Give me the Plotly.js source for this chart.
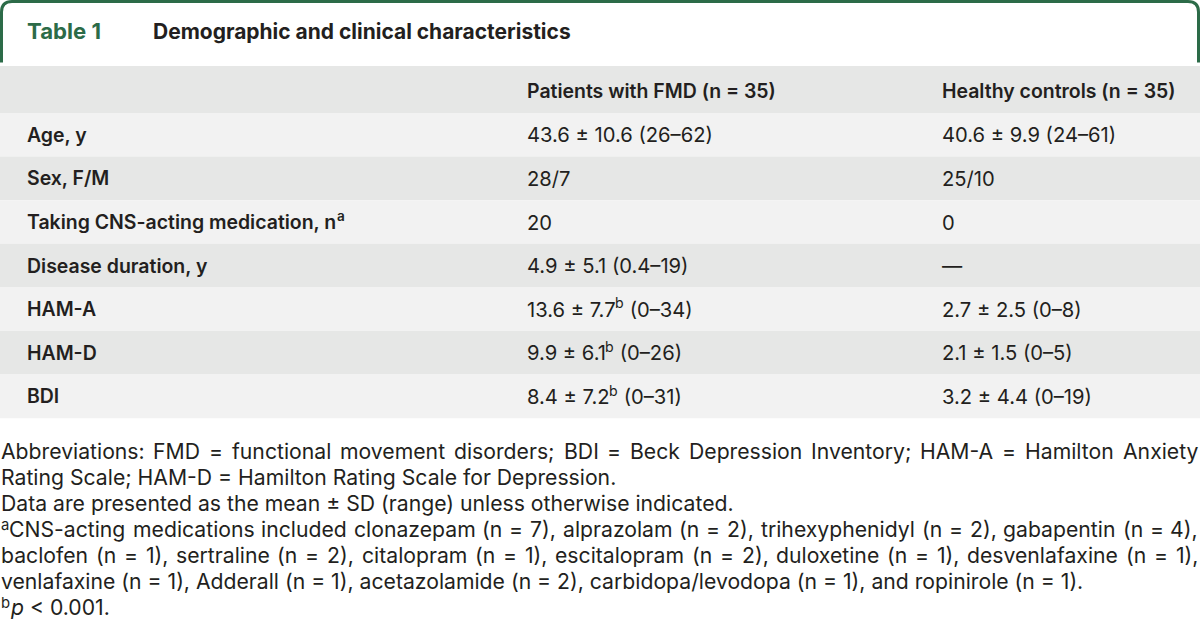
<!DOCTYPE html>
<html><head><meta charset="utf-8">
<script src="https://cdn.plot.ly/plotly-3.0.1.min.js"></script>
<style>html,body{margin:0;padding:0;background:#fff;}#chart{width:1200px;height:637px;}</style>
</head><body><div id="chart"></div>
<script>
// ---- data ----
const tableNumber = "Table 1";
const tableTitle = "Demographic and clinical characteristics";
const columnHeaders = ["Patients with FMD (n = 35)", "Healthy controls (n = 35)"];
const rowLabels = ["Age, y", "Sex, F/M", "Taking CNS-acting medication, n<sup>a</sup>", "Disease duration, y", "HAM-A", "HAM-D", "BDI"];
const fmdValues = ["43.6 ± 10.6 (26–62)", "28/7", "20", "4.9 ± 5.1 (0.4–19)", "13.6 ± 7.7<sup>b</sup> (0–34)", "9.9 ± 6.1<sup>b</sup> (0–26)", "8.4 ± 7.2<sup>b</sup> (0–31)"];
const controlValues = ["40.6 ± 9.9 (24–61)", "25/10", "0", "—", "2.7 ± 2.5 (0–8)", "2.1 ± 1.5 (0–5)", "3.2 ± 4.4 (0–19)"];
const footnoteParagraphs = [
  ["Abbreviations: FMD = functional movement disorders; BDI = Beck Depression Inventory; HAM-A = Hamilton Anxiety",
   "Rating Scale; HAM-D = Hamilton Rating Scale for Depression."],
  ["Data are presented as the mean ± SD (range) unless otherwise indicated."],
  ["<sup>a</sup>CNS-acting medications included clonazepam (n = 7), alprazolam (n = 2), trihexyphenidyl (n = 2), gabapentin (n = 4),",
   "baclofen (n = 1), sertraline (n = 2), citalopram (n = 1), escitalopram (n = 2), duloxetine (n = 1), desvenlafaxine (n = 1),",
   "venlafaxine (n = 1), Adderall (n = 1), acetazolamide (n = 2), carbidopa/levodopa (n = 1), and ropinirole (n = 1)."],
  ["<sup>b</sup><i>p</i> &lt; 0.001."]
];

// ---- style ----
const FAMILY = "Inter";
const TEXT = "#231f20";
const GREEN = "#2c6b48";
const HEADER_BG = "#e6e7e6";
const LIGHT_BG = "#f2f2f2";
const DARK_BG = "#e6e7e6";
const BOLDW = 600;
const SUP = 0.7;

const cv = document.createElement('canvas').getContext('2d');
function plain(t) { return t.replace(/&lt;/g, '<').replace(/&gt;/g, '>').replace(/&amp;/g, '&'); }
// measure text that may contain <sup> and <i>
function measure(html, size, weight) {
  let w = 0, sup = false, ital = false, last = 0, m;
  const re = /<(\/?)(sup|i)>/g;
  const seg = (t) => {
    if (!t) return;
    const s = sup ? size * SUP : size;
    cv.font = (ital ? 'italic ' : 'normal ') + weight + ' ' + s + 'px "' + FAMILY + '"';
    w += cv.measureText(plain(t)).width;
  };
  while ((m = re.exec(html))) {
    seg(html.slice(last, m.index));
    if (m[2] === 'sup') sup = !m[1]; else ital = !m[1];
    last = re.lastIndex;
  }
  seg(html.slice(last));
  return w;
}
function fit(text, target, weight) { return 100 * target / measure(text, 100, weight); }

const valueSize = fit(fmdValues[0], 186, 400);
const labelSize = fit(columnHeaders[0], 249, BOLDW);
const footSize = fit(footnoteParagraphs[1][0], 733, 400);
const titleSize = fit(tableTitle, 418, 700);
const numberSize = fit(tableNumber, 74, 700);

const shapes = [];
const ann = [];
function A(text, x, y, size, weight, color) {
  ann.push({text: text, x: x, y: y, xref: 'x', yref: 'y', xanchor: 'left', yanchor: 'middle',
    showarrow: false, borderpad: 0, borderwidth: 0, align: 'left',
    font: {family: FAMILY, size: size, weight: weight, color: color || TEXT}});
}
// place text, drawing superscripts as their own smaller, raised labels
function R(html, x, y, size, weight, color, raise) {
  const lift = (raise === undefined ? 0.31 : raise) * size;
  const parts = html.split(/(<sup>.*?<\/sup>)/).filter(p => p.length);
  let cx = x;
  parts.forEach(p => {
    const sm = p.match(/^<sup>(.*)<\/sup>$/);
    if (sm) {
      A(sm[1], cx, y - lift, size * SUP, weight, color);
      cx += measure(sm[1], size * SUP, weight);
    } else {
      A(p, cx, y, size, weight, color);
      cx += measure(p, size, weight);
    }
  });
}

// header box border
shapes.push({type: 'path', xref: 'x', yref: 'y',
  path: 'M 1.5,62.5 L 1.5,12 Q 1.5,1.5 12,1.5 L 1188,1.5 Q 1198.5,1.5 1198.5,12 L 1198.5,62.5',
  line: {color: GREEN, width: 3}});
R(tableNumber, 27, 31, numberSize, 700, GREEN);
R(tableTitle, 153, 31, titleSize, 700, TEXT);

// bands
const headTop = 66, rowTop = 113, rowH = 43.6;
shapes.push({type: 'rect', xref: 'x', yref: 'y', x0: 0, x1: 1200, y0: headTop, y1: rowTop, fillcolor: HEADER_BG, line: {width: 0}, layer: 'below'});
const colX = [27, 526.5, 942];
R(columnHeaders[0], colX[1], (headTop + rowTop) / 2 + 1.5, labelSize, BOLDW);
R(columnHeaders[1], colX[2], (headTop + rowTop) / 2 + 1.5, labelSize, BOLDW);
rowLabels.forEach((lab, i) => {
  const y0 = rowTop + i * rowH, y1 = y0 + rowH;
  shapes.push({type: 'rect', xref: 'x', yref: 'y', x0: 0, x1: 1200, y0: y0, y1: y1,
    fillcolor: i % 2 ? DARK_BG : LIGHT_BG, line: {width: 0}, layer: 'below'});
  const yc = (y0 + y1) / 2;
  R(lab, colX[0], yc, labelSize, BOLDW);
  R(fmdValues[i], colX[1], yc, valueSize, 400);
  R(controlValues[i], colX[2], yc, valueSize, 400);
});

// footnotes (justified except the last line of each paragraph)
const fx0 = 1, fx1 = 1198, fy0 = 450.5, fdy = 26, footRaise = 0.15;
let li = 0;
footnoteParagraphs.forEach(par => {
  par.forEach((line, k) => {
    const y = fy0 + li * fdy;
    const justify = k < par.length - 1;
    if (!justify) {
      R(line, fx0, y, footSize, 400, TEXT, footRaise);
    } else {
      const words = line.split(' ');
      const ws = words.map(w => measure(w, footSize, 400));
      const total = ws.reduce((a, b) => a + b, 0);
      const gap = (fx1 - fx0 - total) / (words.length - 1);
      let x = fx0;
      words.forEach((w, j) => { R(w, x, y, footSize, 400, TEXT, footRaise); x += ws[j] + gap; });
    }
    li++;
  });
});

Plotly.newPlot('chart', [], {
  width: 1200, height: 637, margin: {l: 0, r: 0, t: 0, b: 0, pad: 0},
  paper_bgcolor: '#ffffff', plot_bgcolor: '#ffffff',
  xaxis: {range: [0, 1200], visible: false, fixedrange: true},
  yaxis: {range: [637, 0], visible: false, fixedrange: true},
  shapes: shapes, annotations: ann, showlegend: false
}, {staticPlot: true, displayModeBar: false});
</script>
</body></html>
